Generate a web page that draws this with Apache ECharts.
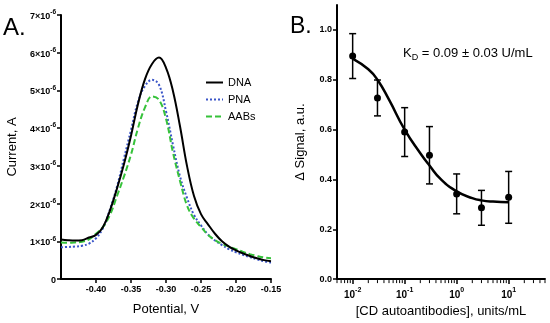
<!DOCTYPE html>
<html><head><meta charset="utf-8">
<script src="https://cdn.jsdelivr.net/npm/echarts@6/dist/echarts.min.js"></script>
<style>html,body{margin:0;padding:0;background:#fff}#c{width:550px;height:323px}</style>
</head><body><div id="c"></div>
<script>
// Panel A: square-wave voltammograms (current in units of 1e-6 A)
const potential = [-0.45,-0.44,-0.43,-0.42,-0.41,-0.40,-0.39,-0.38,-0.37,-0.36,-0.35,-0.34,-0.33,-0.32,-0.31,-0.30,-0.29,-0.28,-0.27,-0.26,-0.25,-0.24,-0.23,-0.22,-0.21,-0.20,-0.19,-0.18,-0.17,-0.16,-0.15];
const dna  = [1.05,1.03,1.02,1.03,1.10,1.17,1.38,1.82,2.40,3.05,3.80,4.64,5.30,5.70,5.87,5.60,4.98,4.05,3.00,2.20,1.72,1.45,1.20,1.00,0.86,0.76,0.68,0.61,0.55,0.50,0.47];
const pna  = [0.84,0.85,0.86,0.88,0.94,1.08,1.35,1.85,2.45,3.20,3.95,4.70,5.12,5.28,5.15,4.45,3.55,2.72,2.15,1.70,1.42,1.18,1.02,0.90,0.79,0.71,0.64,0.58,0.52,0.47,0.44];
const aabs = [0.97,0.96,0.97,0.99,1.05,1.20,1.38,1.70,2.20,2.72,3.30,4.00,4.55,4.84,4.75,4.25,3.35,2.60,1.95,1.60,1.38,1.17,1.03,0.93,0.86,0.79,0.72,0.66,0.61,0.57,0.55];
const currentTicks = [0,1,2,3,4,5,6,7];
const potentialTicks = [-0.40,-0.35,-0.30,-0.25,-0.20,-0.15];

// Panel B: binding curve
const conc = [0.01,0.03,0.1,0.3,1,3,10];
const signal = [0.895,0.727,0.590,0.497,0.342,0.286,0.328];
const signalErr = [0.090,0.072,0.098,0.115,0.080,0.070,0.104];
const fitConc = [0.01,0.02,0.03,0.05,0.1,0.2,0.3,0.5,1,2,3,5,10];
const fitSignal = [0.885,0.842,0.800,0.720,0.600,0.505,0.456,0.400,0.352,0.325,0.316,0.311,0.308];
const signalTicks = [0,0.2,0.4,0.6,0.8,1.0];
const decadeTicks = [-2,-1,0,1];

const FF = 'Liberation Sans';
const chart = echarts.init(document.getElementById('c'));
const logMin = Math.log10(0.005), logMax = Math.log10(50);
const minorLogTicks = [];
for (let d = -3; d <= 1; d++) for (let k = 2; k <= 9; k++) {
  const v = Math.log10(k * Math.pow(10, d));
  if (v > logMin - 1e-9 && v < logMax + 1e-9) minorLogTicks.push(v);
}
const axisLineStyle = {color:'#000', width:2};
const tickStyle = {color:'#000', width:1.5};

chart.setOption({
  animation:false,
  textStyle:{fontFamily:FF},
  grid:[
    {left:61, right:279, top:15, bottom:44},
    {left:337, right:5, top:5, bottom:41}
  ],
  legend:{
    data:['DNA','PNA','AABs'], orient:'vertical', left:200, top:72,
    itemWidth:17, itemHeight:10, itemGap:6,
    itemStyle:{opacity:0},
    textStyle:{fontFamily:FF, fontSize:11, color:'#000'}
  },
  xAxis:[
    {type:'value', gridIndex:0, min:-0.45, max:-0.15, interval:0.05,
     name:'Potential, V', nameLocation:'middle', nameGap:24,
     nameTextStyle:{fontFamily:FF, fontSize:13, color:'#000'},
     axisLine:{onZero:false, lineStyle:axisLineStyle}, splitLine:{show:false},
     axisTick:{length:4, lineStyle:tickStyle, customValues:potentialTicks},
     axisLabel:{customValues:potentialTicks, fontFamily:FF, fontSize:9, fontWeight:'bold', color:'#000', margin:6,
       formatter:v=>v.toFixed(2)}},
    {type:'value', gridIndex:1, min:logMin, max:logMax,
     name:'[CD autoantibodies], units/mL', nameLocation:'middle', nameGap:23,
     nameTextStyle:{fontFamily:FF, fontSize:13, color:'#000'},
     axisLine:{onZero:false, lineStyle:axisLineStyle}, splitLine:{show:false},
     axisTick:{show:true, length:5, lineStyle:tickStyle, customValues:decadeTicks},
     axisLabel:{customValues:decadeTicks, margin:7,
       formatter:v=>'{b|10}{s|'+Math.round(v)+'}',
       rich:{b:{fontFamily:FF, fontSize:10, fontWeight:'bold', color:'#000', lineHeight:14, verticalAlign:'bottom'},
             s:{fontFamily:FF, fontSize:7, fontWeight:'bold', color:'#000', lineHeight:14, verticalAlign:'top'}}}}
  ],
  yAxis:[
    {type:'value', gridIndex:0, min:0, max:7, interval:1,
     name:'Current, A', nameLocation:'middle', nameGap:42,
     nameTextStyle:{fontFamily:FF, fontSize:13, color:'#000'},
     axisLine:{show:true, onZero:false, lineStyle:axisLineStyle}, splitLine:{show:false},
     axisTick:{show:true, length:4, lineStyle:tickStyle, customValues:currentTicks},
     axisLabel:{customValues:currentTicks, margin:5,
       formatter:v=> v===0 ? '{b|0}' : '{b|'+v+'×10}{s|-6}',
       rich:{b:{fontFamily:FF, fontSize:9, fontWeight:'bold', color:'#000', lineHeight:12, verticalAlign:'bottom'},
             s:{fontFamily:FF, fontSize:6.5, fontWeight:'bold', color:'#000', lineHeight:12, verticalAlign:'top'}}}},
    {type:'value', gridIndex:1, min:0, max:1.1,
     name:'Δ Signal, a.u.', nameLocation:'middle', nameGap:30,
     nameTextStyle:{fontFamily:FF, fontSize:13, color:'#000'},
     axisLine:{show:true, onZero:false, lineStyle:axisLineStyle}, splitLine:{show:false},
     axisTick:{show:true, length:4, lineStyle:tickStyle, customValues:signalTicks},
     axisLabel:{customValues:signalTicks, margin:5, fontFamily:FF, fontSize:9, fontWeight:'bold', color:'#000',
       formatter:v=>v.toFixed(1)}}
  ],
  series:[
    {name:'DNA', type:'line', xAxisIndex:0, yAxisIndex:0, showSymbol:false, symbol:'none', smooth:0.4,
     data:potential.map((p,i)=>[p,dna[i]]), lineStyle:{color:'#000', width:2}, itemStyle:{color:'#000'}, z:3},
    {name:'PNA', type:'line', xAxisIndex:0, yAxisIndex:0, showSymbol:false, symbol:'none', smooth:0.4,
     data:potential.map((p,i)=>[p,pna[i]]), lineStyle:{color:'#3a55c8', width:2, type:'dotted'}, itemStyle:{color:'#3a55c8'}, z:2},
    {name:'AABs', type:'line', xAxisIndex:0, yAxisIndex:0, showSymbol:false, symbol:'none', smooth:0.4,
     data:potential.map((p,i)=>[p,aabs[i]]), lineStyle:{color:'#36c23a', width:2, type:[6,3]}, itemStyle:{color:'#36c23a'}, z:2},
    {name:'minorTicks', type:'custom', xAxisIndex:1, yAxisIndex:1, silent:true,
     data:minorLogTicks.map(v=>[v,0]), encode:{x:0, y:1},
     renderItem:(params, api)=>{
       const p = api.coord([api.value(0), 0]);
       return {type:'line', shape:{x1:p[0], y1:p[1]+1, x2:p[0], y2:p[1]+4}, style:{stroke:'#000', lineWidth:1}};
     }, z:1},
    {name:'fit', type:'line', xAxisIndex:1, yAxisIndex:1, showSymbol:false, symbol:'none', smooth:true,
     data:fitConc.map((c,i)=>[Math.log10(c), fitSignal[i]]), lineStyle:{color:'#000', width:2.5}, z:2},
    {name:'err', type:'custom', xAxisIndex:1, yAxisIndex:1,
     data:conc.map((c,i)=>[Math.log10(c), signal[i]-signalErr[i], signal[i]+signalErr[i]]),
     encode:{x:0, y:[1,2]},
     renderItem:(params, api)=>{
       const x = api.value(0), lo = api.value(1), hi = api.value(2);
       const a = api.coord([x, hi]), b = api.coord([x, lo]); const w = 3.5;
       const st = {stroke:'#000', lineWidth:1.5};
       return {type:'group', children:[
         {type:'line', shape:{x1:a[0], y1:a[1], x2:b[0], y2:b[1]}, style:st},
         {type:'line', shape:{x1:a[0]-w, y1:a[1], x2:a[0]+w, y2:a[1]}, style:st},
         {type:'line', shape:{x1:b[0]-w, y1:b[1], x2:b[0]+w, y2:b[1]}, style:st}
       ]};
     }, z:3},
    {name:'points', type:'scatter', xAxisIndex:1, yAxisIndex:1, symbol:'circle', symbolSize:7,
     data:conc.map((c,i)=>[Math.log10(c), signal[i]]), itemStyle:{color:'#000', opacity:1}, z:4}
  ],
  graphic:[
    {type:'text', left:3, top:16, style:{text:'A.', font:'24px "Liberation Sans"', fill:'#000'}},
    {type:'text', left:290, top:15, style:{text:'B.', font:'23px "Liberation Sans"', fill:'#000'}},
    {type:'text', left:403, top:47, style:{
      text:'{k|K}{d|D}{k| = 0.09 ± 0.03 U/mL}',
      rich:{k:{fontFamily:FF, fontSize:13, fill:'#000', color:'#000', lineHeight:18, verticalAlign:'middle'},
            d:{fontFamily:FF, fontSize:9, fill:'#000', color:'#000', lineHeight:18, verticalAlign:'bottom'}}}}
  ]
});
</script></body></html>
